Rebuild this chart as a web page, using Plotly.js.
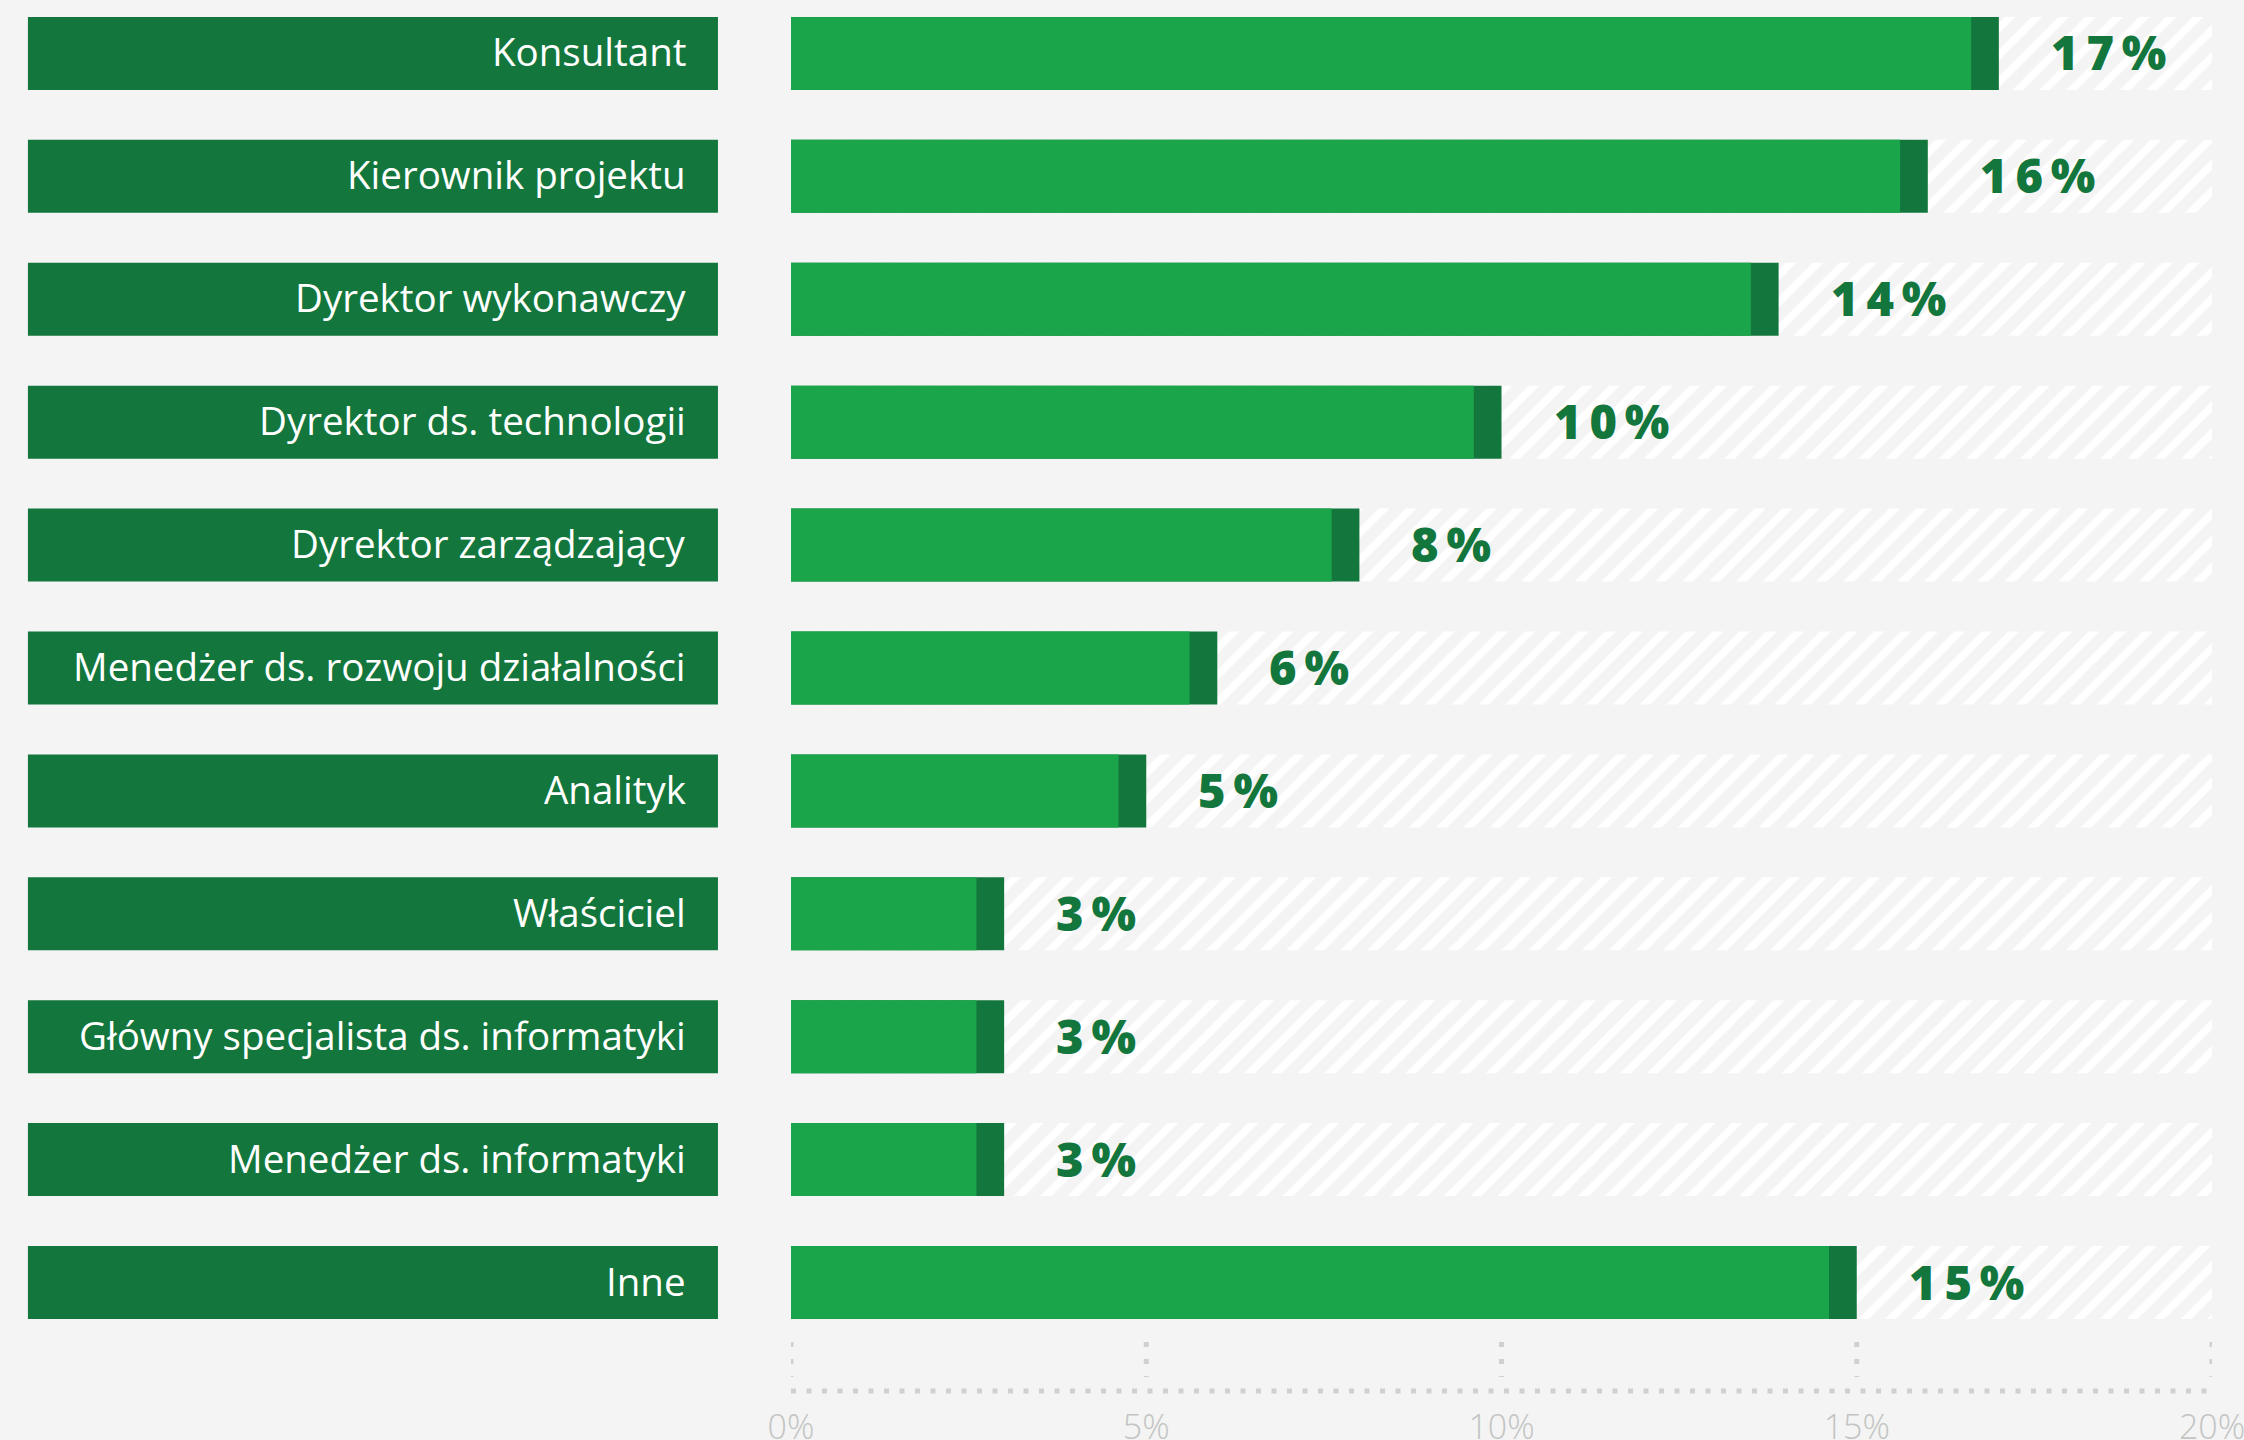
<!DOCTYPE html>
<html>
<head>
<meta charset="utf-8">
<script src="https://cdn.plot.ly/plotly-3.0.1.min.js"></script>
<style>html,body{margin:0;padding:0;background:#f3f4f3;}</style>
</head>
<body>
<div id="chart" style="width:2244px;height:1440px;"></div>
<script>
const categories = [
  'Konsultant',
  'Kierownik projektu',
  'Dyrektor wykonawczy',
  'Dyrektor ds. technologii',
  'Dyrektor zarządzający',
  'Menedżer ds. rozwoju działalności',
  'Analityk',
  'Właściciel',
  'Główny specjalista ds. informatyki',
  'Menedżer ds. informatyki',
  'Inne'
];
const values = [17.0, 16.0, 13.9, 10.0, 8.0, 6.0, 5.0, 3.0, 3.0, 3.0, 15.0];
const valueLabels = ['17%', '16%', '14%', '10%', '8%', '6%', '5%', '3%', '3%', '3%', '15%'];
const axisMax = 20;
const tickValues = [0, 5, 10, 15, 20];
const tickLabels = ['0%', '5%', '10%', '15%', '20%'];

const BG = '#f3f4f3';
const DARK = '#13763d';
const LIGHT = '#1ba54a';
const CAP = 0.39;
const BARW = 0.594;
const SPACER = '\u2006';

const traces = [
  {
    type: 'bar', orientation: 'h', y: categories, x: categories.map(() => axisMax),
    width: BARW, hoverinfo: 'skip',
    marker: { color: BG, line: { width: 0 },
      pattern: { shape: '/', bgcolor: BG, fgcolor: '#ffffff', size: 19, solidity: 0.4 } }
  },
  {
    type: 'bar', orientation: 'h', y: categories, x: values,
    width: BARW, marker: { color: DARK, line: { width: 0 } }
  },
  {
    type: 'bar', orientation: 'h', y: categories, x: values.map(v => v - CAP),
    width: BARW, marker: { color: LIGHT, line: { width: 0 } }
  }
];

const shapes = [];
const annotations = [];
categories.forEach((c, i) => {
  shapes.push({
    type: 'rect', xref: 'paper', yref: 'y',
    x0: -0.537, x1: -0.0514, y0: i - BARW / 2, y1: i + BARW / 2,
    fillcolor: DARK, line: { width: 0 }, layer: 'above'
  });
  annotations.push({
    xref: 'paper', yref: 'y', x: -0.0725, y: c, xanchor: 'right', yanchor: 'middle',
    yshift: 2, text: c, showarrow: false,
    font: { family: 'Open Sans, sans-serif', size: 38.5, color: '#ffffff' }
  });
  annotations.push({
    xref: 'x', yref: 'y', x: values[i], y: c, xanchor: 'left', yanchor: 'middle',
    xshift: 50, yshift: 1, text: valueLabels[i].split('').join(SPACER), showarrow: false,
    font: { family: 'Open Sans, sans-serif', size: 47, weight: 800, color: DARK }
  });
});
tickValues.forEach(t => {
  shapes.push({
    type: 'line', xref: 'x', yref: 'y', x0: t, x1: t, y0: 10.484, y1: 10.769,
    line: { color: '#cfd0cf', width: 5, dash: '5px,12px' }
  });
});
shapes.push({
  type: 'line', xref: 'x', yref: 'y', x0: 0, x1: axisMax, y0: 10.883, y1: 10.883,
  line: { color: '#cfd0cf', width: 5, dash: '5px,10.5px' }
});

const layout = {
  width: 2244, height: 1440,
  paper_bgcolor: BG, plot_bgcolor: BG,
  margin: { l: 791, r: 32, t: 0, b: 40 },
  barmode: 'overlay', showlegend: false,
  xaxis: {
    range: [0, axisMax], tickvals: tickValues, ticktext: tickLabels,
    showgrid: false, zeroline: false, showline: false, ticks: '',
    ticklabelstandoff: 4, ticklabeloverflow: 'allow',
    tickfont: { family: 'Open Sans, sans-serif', size: 34, weight: 300, color: '#c3c4c3' }
  },
  yaxis: {
    type: 'category', range: [10.956, -0.435],
    showgrid: false, zeroline: false, showline: false, showticklabels: false, ticks: ''
  },
  shapes: shapes,
  annotations: annotations
};

Plotly.newPlot('chart', traces, layout, { displayModeBar: false, staticPlot: true });
</script>
</body>
</html>
